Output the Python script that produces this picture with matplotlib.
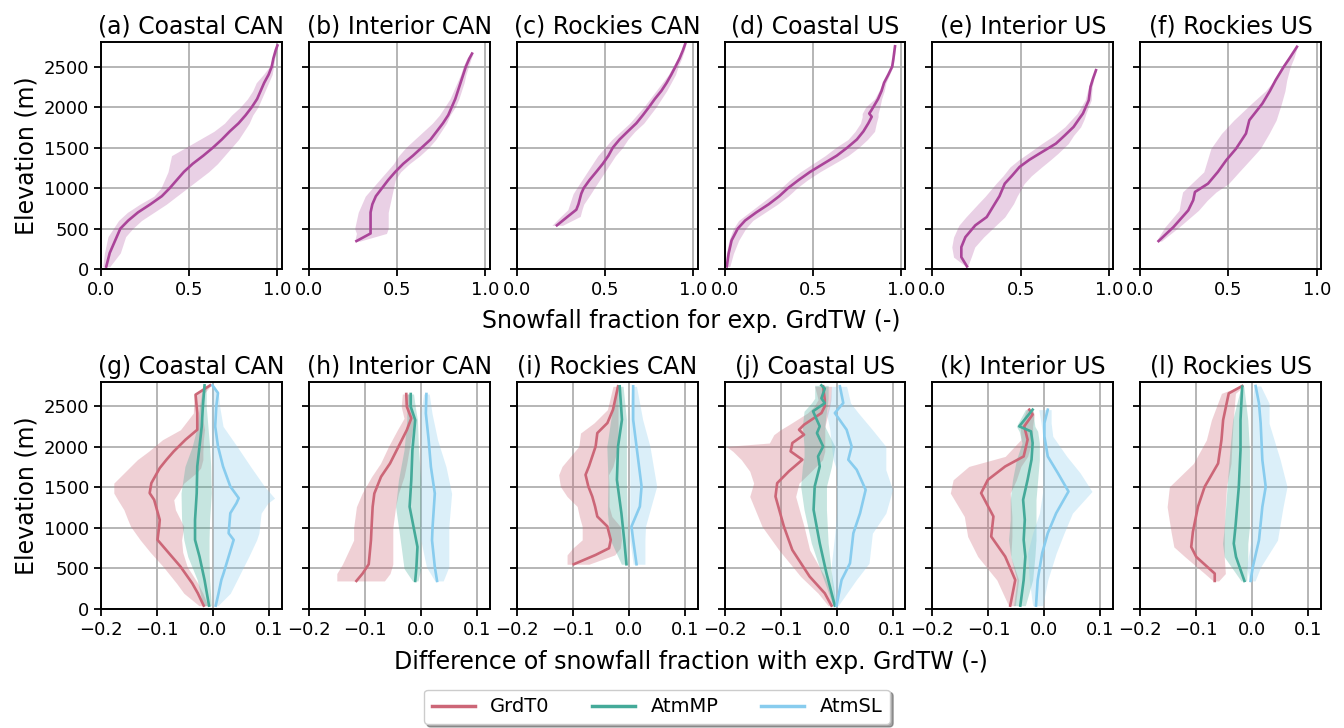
import numpy as np
import matplotlib
matplotlib.use('Agg')
import matplotlib.pyplot as plt
from matplotlib.lines import Line2D

# ---- top row: snowfall fraction, exp. GrdTW (median + spread) ----
titles_top = ['(a) Coastal CAN', '(b) Interior CAN', '(c) Rockies CAN',
              '(d) Coastal US', '(e) Interior US', '(f) Rockies US']
titles_bot = ['(g) Coastal CAN', '(h) Interior CAN', '(i) Rockies CAN',
              '(j) Coastal US', '(k) Interior US', '(l) Rockies US']
exp_names = ['GrdT0', 'AtmMP', 'AtmSL']

a_z = [30, 200, 400, 500, 600, 700, 800, 900, 1000, 1100, 1200, 1300, 1400, 1500, 1600, 1700, 1800, 1900, 2000, 2100, 2200, 2300, 2400, 2500, 2600, 2700, 2760]
a_mid = [.03, .05, .09, .11, .155, .21, .28, .345, .39, .43, .47, .52, .58, .635, .685, .73, .78, .82, .855, .885, .905, .925, .95, .968, .977, .99, 1.0]
a_lo = [.01, .02, .04, .07, .10, .15, .22, .30, .34, .36, .38, .39, .40, .48, .56, .64, .70, .74, .79, .83, .86, .88, .92, .955, .97, .985, .995]
a_hi = [.05, .11, .14, .18, .23, .30, .37, .43, .49, .55, .61, .66, .70, .74, .78, .81, .84, .86, .89, .91, .93, .95, .97, .978, .985, .995, 1.0]

b_z = [346, 440, 500, 600, 700, 800, 900, 1000, 1100, 1200, 1300, 1400, 1500, 1600, 1700, 1800, 1900, 2000, 2100, 2200, 2300, 2400, 2500, 2600, 2660]
b_mid = [.27, .35, .35, .35, .35, .36, .38, .415, .45, .49, .535, .59, .64, .69, .725, .76, .79, .81, .83, .845, .86, .875, .89, .91, .925]
b_lo = [.26, .27, .26, .27, .28, .30, .32, .36, .40, .44, .48, .51, .55, .60, .65, .70, .74, .77, .80, .82, .84, .86, .875, .895, .915]
b_hi = [.29, .44, .45, .45, .45, .46, .47, .48, .49, .52, .57, .63, .68, .72, .75, .78, .80, .83, .85, .865, .88, .89, .905, .92, .93]

c_z = [540, 650, 733, 800, 931, 1000, 1100, 1200, 1300, 1400, 1500, 1600, 1700, 1800, 1900, 2000, 2100, 2200, 2300, 2400, 2500, 2600, 2700, 2780]
c_mid = [.228, .29, .338, .35, .366, .38, .413, .451, .488, .52, .545, .583, .63, .678, .715, .75, .783, .82, .85, .876, .90, .923, .942, .955]
c_lo = [.20, .25, .29, .30, .32, .34, .37, .40, .43, .46, .50, .54, .59, .64, .68, .72, .755, .79, .825, .86, .885, .91, .935, .95]
c_hi = [.26, .36, .37, .38, .42, .44, .47, .50, .53, .56, .60, .63, .67, .72, .755, .79, .82, .85, .875, .90, .915, .935, .95, .96]

d_z = [33, 190, 354, 500, 600, 700, 800, 900, 1000, 1100, 1200, 1300, 1400, 1500, 1600, 1700, 1800, 1880, 1920, 1960, 2000, 2100, 2200, 2300, 2400, 2500, 2600, 2750]
d_mid = [.013, .023, .04, .075, .117, .18, .25, .31, .36, .42, .485, .56, .636, .696, .75, .787, .815, .834, .82, .832, .843, .87, .89, .904, .928, .95, .957, .966]
d_lo = [.005, .01, .025, .05, .08, .14, .20, .26, .32, .37, .43, .50, .57, .63, .70, .74, .77, .78, .78, .79, .80, .85, .875, .895, .92, .945, .952, .962]
d_hi = [.03, .05, .08, .12, .16, .23, .30, .36, .41, .47, .54, .62, .70, .76, .81, .85, .86, .87, .87, .875, .88, .89, .905, .915, .935, .955, .962, .97]

e_z = [33, 148, 272, 395, 540, 643, 808, 900, 1055, 1150, 1261, 1350, 1425, 1549, 1650, 1755, 1850, 1920, 2085, 2250, 2350, 2455]
e_mid = [.196, .164, .164, .187, .243, .308, .354, .38, .41, .45, .494, .55, .606, .70, .75, .80, .83, .853, .886, .896, .91, .927]
e_lo = [.19, .12, .11, .12, .15, .19, .26, .30, .36, .40, .44, .49, .54, .62, .69, .75, .79, .82, .865, .885, .90, .92]
e_hi = [.20, .22, .24, .29, .36, .41, .46, .48, .52, .56, .62, .67, .71, .77, .80, .84, .86, .87, .90, .905, .915, .93]

f_z = [346, 519, 725, 850, 952, 1055, 1200, 1343, 1487, 1673, 1838, 2043, 2200, 2332, 2497, 2600, 2744]
f_mid = [.104, .188, .272, .30, .31, .384, .44, .487, .543, .599, .618, .692, .735, .767, .813, .845, .888]
f_lo = [.09, .14, .22, .23, .24, .29, .36, .38, .40, .46, .53, .63, .71, .76, .80, .84, .885]
f_hi = [.12, .22, .33, .38, .43, .50, .56, .62, .68, .73, .77, .80, .82, .83, .85, .87, .89]

# ---- bottom row: difference with GrdTW for GrdT0 / AtmMP / AtmSL ----
# (g) Coastal CAN
g_t0_z = [41, 194, 317, 523, 700, 853, 1018, 1100, 1224, 1347, 1430, 1553, 1677, 1739, 1842, 1945, 2089, 2212, 2418, 2645, 2760]
g_t0 = [-.0165, -.027, -.037, -.058, -.080, -.099, -.096, -.095, -.1, -.105, -.113, -.11, -.1, -.095, -.083, -.07, -.049, -.028, -.028, -.031, -.005]
g_t0_lo = [-.025, -.052, -.065, -.089, -.112, -.13, -.147, -.152, -.159, -.17, -.177, -.177, -.159, -.15, -.135, -.115, -.09, -.058, -.035, -.034, -.006]
g_t0_hi = [-.009, -.018, -.027, -.046, -.054, -.056, -.052, -.058, -.067, -.07, -.062, -.052, -.03, -.022, -.018, -.018, -.017, -.015, -.02, -.018, -.003]
g_mp_z = [41, 358, 647, 853, 1100, 1430, 1759, 2006, 2254, 2500, 2760]
g_mp = [-.007, -.015, -.024, -.032, -.032, -.029, -.028, -.024, -.02, -.018, -.015]
g_mp_lo = [-.018, -.028, -.045, -.052, -.056, -.057, -.05, -.037, -.028, -.024, -.018]
g_mp_hi = [-.003, -.006, -.007, -.007, -.006, -.003, -.004, -.006, -.009, -.012, -.012]
g_sl_z = [41, 194, 358, 441, 647, 853, 935, 1182, 1306, 1368, 1512, 1759, 2006, 2254, 2500, 2666, 2760]
g_sl = [.005, .01, .015, .019, .028, .037, .028, .031, .042, .046, .031, .018, .009, .004, .006, .009, -.001]
g_sl_lo = [.001, 0, 0, 0, 0, 0, 0, 0, 0, 0, 0, 0, -.002, -.003, -.003, -.002, -.002]
g_sl_hi = [.009, .031, .043, .049, .064, .078, .082, .086, .098, .11, .092, .067, .043, .018, .012, .01, .002]

# (h) Interior CAN
h_t0_z = [346, 437, 552, 700, 849, 1000, 1261, 1425, 1632, 1796, 2002, 2208, 2353, 2497, 2653]
h_t0 = [-.115, -.104, -.093, -.091, -.089, -.088, -.086, -.083, -.071, -.055, -.04, -.025, -.017, -.025, -.026]
h_t0_lo = [-.15, -.15, -.14, -.13, -.12, -.12, -.115, -.105, -.088, -.072, -.058, -.042, -.03, -.035, -.033]
h_t0_hi = [-.065, -.055, -.05, -.05, -.05, -.05, -.045, -.04, -.03, -.025, -.02, -.015, -.012, -.02, -.02]
h_mp_z = [346, 500, 766, 1014, 1261, 1590, 1961, 2332, 2497, 2653]
h_mp = [-.010, -.008, -.006, -.013, -.02, -.017, -.015, -.01, -.018, -.018]
h_mp_lo = [-.015, -.03, -.035, -.04, -.045, -.04, -.03, -.025, -.025, -.025]
h_mp_hi = [-.005, 0, 0, 0, 0, 0, -.004, -.006, -.01, -.013]
h_sl_z = [346, 519, 849, 1014, 1425, 1755, 2085, 2414, 2653]
h_sl = [.029, .025, .02, .021, .025, .018, .014, .009, .01]
h_sl_lo = [.025, .01, 0, 0, 0, 0, 0, 0, .005]
h_sl_hi = [.04, .05, .05, .05, .055, .045, .03, .02, .015]

# (i) Rockies CAN
i_t0_z = [552, 667, 750, 853, 1018, 1141, 1265, 1388, 1512, 1656, 1759, 2006, 2171, 2295, 2460, 2748]
i_t0 = [-.098, -.059, -.035, -.032, -.038, -.056, -.06, -.065, -.072, -.077, -.071, -.059, -.056, -.038, -.028, -.019]
i_t0_lo = [-.11, -.11, -.1, -.083, -.083, -.088, -.092, -.11, -.122, -.125, -.119, -.089, -.086, -.062, -.038, -.028]
i_t0_hi = [-.071, -.025, -.015, -.013, -.015, -.03, -.035, -.035, -.035, -.036, -.028, -.019, -.019, -.019, -.019, -.019]
i_mp_z = [552, 853, 1182, 1594, 2006, 2336, 2748]
i_mp = [-.004, -.008, -.013, -.021, -.019, -.012, -.016]
i_mp_lo = [-.013, -.033, -.038, -.037, -.039, -.032, -.022]
i_mp_hi = [-.001, -.001, -.003, -.004, -.004, -.004, -.01]
i_sl_z = [552, 853, 1018, 1265, 1512, 2006, 2336, 2748]
i_sl = [.014, .008, .005, .02, .023, .014, .008, .008]
i_sl_lo = [.008, .002, .002, .002, .002, .002, .002, .005]
i_sl_hi = [.029, .029, .03, .04, .05, .038, .025, .014]

# (j) Coastal US
j_t0_z = [41, 194, 400, 729, 1018, 1388, 1553, 1700, 1842, 1945, 2006, 2048, 2151, 2212, 2274, 2418, 2500, 2583, 2748]
j_t0 = [-.009, -.021, -.048, -.079, -.094, -.109, -.106, -.085, -.061, -.082, -.08, -.079, -.058, -.067, -.058, -.027, -.021, -.021, -.024]
j_t0_lo = [-.015, -.033, -.064, -.103, -.133, -.155, -.148, -.155, -.17, -.185, -.197, -.12, -.112, -.1, -.085, -.052, -.04, -.033, -.039]
j_t0_hi = [-.003, -.009, -.021, -.048, -.058, -.073, -.067, -.045, -.025, -.021, -.021, -.021, -.021, -.021, -.02, -.015, -.012, -.01, -.009]
j_mp_z = [41, 441, 812, 1224, 1512, 1759, 1883, 2006, 2171, 2254, 2440, 2540, 2600, 2720, 2760]
j_mp = [-.003, -.018, -.03, -.041, -.039, -.03, -.033, -.024, -.035, -.03, -.042, -.021, -.027, -.021, -.027]
j_mp_lo = [-.006, -.027, -.045, -.058, -.064, -.061, -.058, -.058, -.06, -.061, -.058, -.045, -.039, -.039, -.039]
j_mp_hi = [0, -.009, -.015, -.018, -.018, -.009, -.006, -.003, -.015, -.021, -.018, -.016, -.015, -.015, -.015]
j_sl_z = [41, 358, 564, 935, 1182, 1471, 1718, 1842, 2006, 2212, 2418, 2542, 2748]
j_sl = [0, .009, .024, .03, .042, .052, .036, .021, .027, .018, -.003, .012, .006]
j_sl_lo = [-.003, -.009, -.009, -.003, 0, 0, 0, -.006, -.009, -.012, -.018, -.012, -.009]
j_sl_hi = [.003, .035, .058, .064, .088, .1, .088, .088, .088, .064, .039, .025, .018]

# (k) Interior US
k_t0_z = [41, 358, 647, 894, 1141, 1430, 1594, 1759, 1883, 2089, 2254, 2400, 2460]
k_t0 = [-.061, -.052, -.070, -.095, -.091, -.113, -.101, -.070, -.037, -.03, -.036, -.021, -.027]
k_t0_lo = [-.064, -.085, -.119, -.137, -.143, -.168, -.163, -.135, -.07, -.042, -.043, -.035, -.032]
k_t0_hi = [-.052, -.046, -.06, -.058, -.058, -.061, -.05, -.042, -.03, -.021, -.021, -.018, -.021]
k_mp_z = [41, 358, 647, 853, 1100, 1347, 1594, 1842, 2048, 2192, 2254, 2460]
k_mp = [-.043, -.037, -.034, -.037, -.035, -.038, -.03, -.023, -.021, -.024, -.045, -.021]
k_mp_lo = [-.055, -.049, -.06, -.064, -.061, -.061, -.057, -.05, -.04, -.045, -.05, -.034]
k_mp_hi = [-.034, -.021, -.017, -.015, -.015, -.015, -.012, -.009, -.009, -.012, -.017, -.021]
k_sl_z = [41, 358, 688, 935, 1182, 1450, 1677, 1883, 2130, 2295, 2460]
k_sl = [-.015, -.012, -.004, .006, .021, .043, .024, .006, 0, 0, .006]
k_sl_lo = [-.021, -.027, -.03, -.021, -.009, -.003, -.003, -.003, -.003, -.006, -.01]
k_sl_hi = [-.003, .006, .021, .035, .05, .085, .064, .04, .015, .012, .012]

# (l) Rockies US
l_t0_z = [346, 437, 643, 766, 952, 1261, 1508, 1796, 2085, 2332, 2661, 2752]
l_t0 = [-.067, -.067, -.1, -.109, -.106, -.097, -.085, -.061, -.055, -.052, -.042, -.018]
l_t0_lo = [-.07, -.085, -.12, -.14, -.145, -.152, -.148, -.105, -.082, -.073, -.055, -.02]
l_t0_hi = [-.06, -.048, -.05, -.05, -.05, -.048, -.046, -.038, -.036, -.034, -.03, -.015]
l_mp_z = [346, 643, 808, 1014, 1508, 1961, 2332, 2744]
l_mp = [-.014, -.029, -.033, -.03, -.024, -.021, -.021, -.018]
l_mp_lo = [-.02, -.05, -.053, -.05, -.045, -.04, -.035, -.02]
l_mp_hi = [-.01, -.008, -.008, -.005, -.005, -.005, -.008, -.015]
l_sl_z = [346, 519, 849, 1261, 1508, 1838, 2291, 2538, 2752]
l_sl = [-.003, .001, .012, .018, .024, .018, .015, .012, .006]
l_sl_lo = [-.005, -.01, -.002, 0, 0, 0, 0, 0, .003]
l_sl_hi = [.005, .015, .045, .055, .062, .05, .03, .03, .015]

#%% collect
top = [(a_z, a_mid, a_lo, a_hi), (b_z, b_mid, b_lo, b_hi), (c_z, c_mid, c_lo, c_hi),
       (d_z, d_mid, d_lo, d_hi), (e_z, e_mid, e_lo, e_hi), (f_z, f_mid, f_lo, f_hi)]
bot = [
    [(g_t0_z, g_t0, g_t0_lo, g_t0_hi), (g_mp_z, g_mp, g_mp_lo, g_mp_hi), (g_sl_z, g_sl, g_sl_lo, g_sl_hi)],
    [(h_t0_z, h_t0, h_t0_lo, h_t0_hi), (h_mp_z, h_mp, h_mp_lo, h_mp_hi), (h_sl_z, h_sl, h_sl_lo, h_sl_hi)],
    [(i_t0_z, i_t0, i_t0_lo, i_t0_hi), (i_mp_z, i_mp, i_mp_lo, i_mp_hi), (i_sl_z, i_sl, i_sl_lo, i_sl_hi)],
    [(j_t0_z, j_t0, j_t0_lo, j_t0_hi), (j_mp_z, j_mp, j_mp_lo, j_mp_hi), (j_sl_z, j_sl, j_sl_lo, j_sl_hi)],
    [(k_t0_z, k_t0, k_t0_lo, k_t0_hi), (k_mp_z, k_mp, k_mp_lo, k_mp_hi), (k_sl_z, k_sl, k_sl_lo, k_sl_hi)],
    [(l_t0_z, l_t0, l_t0_lo, l_t0_hi), (l_mp_z, l_mp, l_mp_lo, l_mp_hi), (l_sl_z, l_sl, l_sl_lo, l_sl_hi)],
]

purple = '#AA4499'
cols = ['#CC6677', '#44AA99', '#88CCEE']

fig, axes = plt.subplots(2, 6, figsize=(13.44, 7.28), dpi=100, sharey=True)
fig.subplots_adjust(left=0.0751, right=0.983, top=0.942, bottom=0.1635,
                    wspace=0.149, hspace=0.498)

def style(ax):
    ax.set_ylim(0, 2800)
    ax.set_yticks([0, 500, 1000, 1500, 2000, 2500])
    ax.grid(True, color='#b0b0b0', lw=1.3)
    ax.set_axisbelow(True)
    ax.tick_params(labelsize=13, length=5, width=1.3)
    for s in ax.spines.values():
        s.set_linewidth(1.4)

for n in range(6):
    ax = axes[0, n]
    z, m, lo, hi = top[n]
    ax.fill_betweenx(z, lo, hi, color=purple, alpha=0.25, lw=0)
    ax.plot(m, z, color=purple, lw=1.9)
    ax.set_xlim(0, 1.025)
    ax.set_xticks([0, 0.5, 1.0])
    ax.set_title(titles_top[n], fontsize=17)
    style(ax)

    ax = axes[1, n]
    for k in range(3):
        z, m, lo, hi = bot[n][k]
        ax.fill_betweenx(z, lo, hi, color=cols[k], alpha=0.3, lw=0)
    for k in range(3):
        z, m, lo, hi = bot[n][k]
        ax.plot(m, z, color=cols[k], lw=1.9)
    ax.set_xlim(-0.2, 0.123)
    ax.set_xticks([-0.2, -0.1, 0.0, 0.1])
    ax.set_title(titles_bot[n], fontsize=17)
    style(ax)

axes[0, 0].set_ylabel('Elevation (m)', fontsize=17)
axes[1, 0].set_ylabel('Elevation (m)', fontsize=17)

fig.text(0.514, 0.559, 'Snowfall fraction for exp. GrdTW (-)', ha='center', va='center', fontsize=17)
fig.text(0.514, 0.09, 'Difference of snowfall fraction with exp. GrdTW (-)', ha='center', va='center', fontsize=17)

handles = [Line2D([], [], color=c, lw=2.5) for c in cols]
fig.legend(handles, exp_names, loc='center', bbox_to_anchor=(0.489, 0.029), ncol=3,
           fontsize=14, shadow=True, handlelength=2.2, columnspacing=2.2)

fig.savefig('out.png', dpi=100)
